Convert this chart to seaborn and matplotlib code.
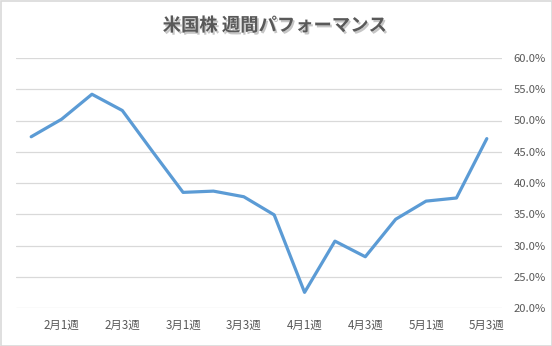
import matplotlib
matplotlib.use("Agg")
import matplotlib.pyplot as plt
import matplotlib.patheffects as pe
from matplotlib.patches import Rectangle
import seaborn as sns
import pandas as pd

weeks = ["1月4週", "2月1週", "2月2週", "2月3週", "2月4週", "3月1週", "3月2週", "3月3週",
         "3月4週", "4月1週", "4月2週", "4月3週", "4月4週", "5月1週", "5月2週", "5月3週"]
performance = [47.4, 50.2, 54.2, 51.6, 45.0, 38.5, 38.7, 37.8,
               34.9, 22.5, 30.7, 28.2, 34.2, 37.1, 37.6, 47.1]
y_ticks = [20, 25, 30, 35, 40, 45, 50, 55, 60]
title = "米国株 週間パフォーマンス"

sns.set_theme(style="white")
plt.rcParams['font.family'] = ['Noto Sans CJK JP', 'DejaVu Sans']

df = pd.DataFrame({"pos": range(len(weeks)), "value": performance})

fig = plt.figure(figsize=(5.52, 3.46), dpi=100)
ax = fig.add_axes([16/552, 1 - 308/346, 486/552, 250/346])

sns.lineplot(data=df, x="pos", y="value", ax=ax, color="#5B9BD5", linewidth=2.3)

ax.set_xlim(-0.5, len(weeks) - 0.5)
ax.set_ylim(20, 60)
ax.set_yticks(y_ticks)
ax.set_yticklabels([f"{v:.1f}%" for v in y_ticks])
ax.yaxis.tick_right()
shown = list(range(1, len(weeks), 2))
ax.set_xticks(shown)
ax.set_xticklabels([weeks[i] for i in shown])
ax.tick_params(axis="y", length=0, pad=8.5, labelsize=8.1, labelcolor="#595959")
ax.tick_params(axis="x", length=0, pad=8, labelsize=8.3, labelcolor="#595959")
ax.set_xlabel("")
ax.set_ylabel("")
ax.grid(axis="y", color="#D9D9D9", linewidth=0.9)
ax.grid(axis="x", visible=False)
for s in ax.spines.values():
    s.set_visible(False)

fig.text(275/552, 1 - 25.5/346, title, ha="center", va="center", fontsize=13.2,
         fontweight="bold", color="#595959",
         path_effects=[pe.withSimplePatchShadow(offset=(1.2, -1.5), shadow_rgbFace="#A0A0A0", alpha=0.6)])

fig.patches.append(Rectangle((0.5/552, 0.5/346), 1 - 1/552, 1 - 1/346, transform=fig.transFigure,
                             fill=False, edgecolor="#D9D9D9", linewidth=1.2))

fig.savefig("out.png", dpi=100)
